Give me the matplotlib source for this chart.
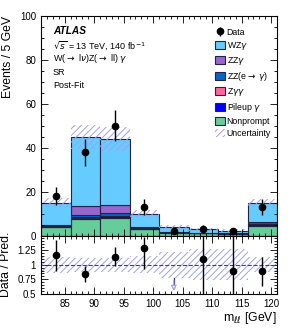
import matplotlib
matplotlib.use('Agg')
import matplotlib.pyplot as plt
import numpy as np
from matplotlib.ticker import MultipleLocator, FixedLocator, FixedFormatter

plt.rcParams['font.family'] = ['Liberation Sans', 'DejaVu Sans']
plt.rcParams['hatch.linewidth'] = 0.7

# bins in m_ll [GeV]
edges = [81, 86, 91, 96, 101, 106, 111, 116, 121]
centres = [83.5, 88.5, 93.5, 98.5, 103.5, 108.5, 113.5, 118.5]

# stacked predictions (events / bin), bottom to top
nonprompt = [3.8, 7.4, 7.8, 2.8, 1.3, 1.0, 0.7, 4.5]
pileup    = [0.3, 0.8, 1.0, 0.3, 0.2, 0.1, 0.1, 0.6]
zgg       = [0.1, 0.2, 0.2, 0.1, 0.0, 0.0, 0.0, 0.1]
zz_ey     = [0.3, 0.9, 1.1, 0.3, 0.2, 0.1, 0.1, 0.8]
zzy       = [0.3, 4.1, 3.8, 0.2, 0.1, 0.1, 0.1, 0.3]
wzy       = [10.2, 31.6, 30.1, 6.3, 2.2, 1.5, 1.2, 8.4]

rel_unc = [0.14, 0.12, 0.12, 0.15, 0.22, 0.27, 0.27, 0.13]

data = [18, 38, 50, 13, 2, 3, 2, 13]

ratio     = [1.17, 0.845, 1.14, 1.28, np.nan, 1.09, 0.90, 0.885]
ratio_lo  = [0.90, 0.71, 0.98, 0.93, np.nan, 0.40, 0.40, 0.64]
ratio_hi  = [1.43, 0.97, 1.30, 1.47, np.nan, 1.60, 1.60, 1.13]
arrow_bin = 4

samples = [
    ('Nonprompt', nonprompt, '#66cc99'),
    ('Pileup $\\gamma$', pileup, '#0000ff'),
    ('Z$\\gamma\\gamma$', zgg, '#ff6699'),
    ('ZZ(e$\\rightarrow$ $\\gamma$)', zz_ey, '#0066cc'),
    ('ZZ$\\gamma$', zzy, '#9966cc'),
    ('WZ$\\gamma$', wzy, '#66ccff'),
]
band_col = '#a0a0f0'

fig = plt.figure(figsize=(2.91, 3.28), dpi=100)
ax = fig.add_axes([0.141, 0.282, 0.811, 0.669])
rax = fig.add_axes([0.141, 0.104, 0.811, 0.178], sharex=ax)

bottom = np.zeros(len(centres))
handles = {}
for name, vals, col in samples:
    vals = np.array(vals)
    h = ax.bar(edges[:-1], vals, width=np.diff(edges), bottom=bottom, align='edge',
               color=col, edgecolor='#222244', linewidth=0.8, label=name)
    handles[name] = h
    bottom = bottom + vals
total = bottom

up = total * (1 + np.array(rel_unc))
dn = total * (1 - np.array(rel_unc))
unc = ax.fill_between(edges, np.append(dn, dn[-1]), np.append(up, up[-1]), step='post',
                      facecolor='none', edgecolor=band_col, hatch='/////', linewidth=0,
                      label='Uncertainty')

derr = np.sqrt(np.array(data, dtype=float))
dat = ax.errorbar(centres, data, yerr=derr, fmt='o', color='black', ms=4.5,
                  elinewidth=1.0, capsize=0, label='Data')

ax.set_xlim(81, 121)
ax.set_ylim(0, 100)
ax.yaxis.set_major_locator(MultipleLocator(20))
ax.yaxis.set_minor_locator(MultipleLocator(5))
ax.xaxis.set_major_locator(MultipleLocator(5))
ax.xaxis.set_minor_locator(MultipleLocator(1))
for a in (ax, rax):
    a.tick_params(which='both', direction='in', top=True, right=True, labelsize=7)
    a.tick_params(which='major', length=5, width=0.6)
    a.tick_params(which='minor', length=2.5, width=0.6)
    for s in a.spines.values():
        s.set_linewidth(0.8)
ax.tick_params(labelbottom=False)
ax.set_ylabel('Events / 5 GeV', fontsize=8.8, loc='top')

order = ['WZ$\\gamma$', 'ZZ$\\gamma$', 'ZZ(e$\\rightarrow$ $\\gamma$)', 'Z$\\gamma\\gamma$',
         'Pileup $\\gamma$', 'Nonprompt']
leg = ax.legend([dat] + [handles[n] for n in order] + [unc],
                ['Data'] + order + ['Uncertainty'],
                loc='upper right', bbox_to_anchor=(1.0, 0.975), frameon=False,
                fontsize=6.3, handlelength=1.1, handleheight=1.0, handletextpad=0.2,
                labelspacing=0.35, borderaxespad=0.3)

tx = 0.05
ax.text(tx, 0.93, 'ATLAS', transform=ax.transAxes, fontsize=7.3, fontweight='bold',
        style='italic', va='center')
ax.text(tx, 0.865, '$\\sqrt{s}$ = 13 TeV, 140 fb$^{-1}$', transform=ax.transAxes,
        fontsize=6.5, va='center')
ax.text(tx, 0.805, 'W($\\rightarrow$ l$\\nu$)Z($\\rightarrow$ ll) $\\gamma$',
        transform=ax.transAxes, fontsize=6.5, va='center')
ax.text(tx, 0.745, 'SR', transform=ax.transAxes, fontsize=6.5, va='center')
ax.text(tx, 0.683, 'Post-Fit', transform=ax.transAxes, fontsize=6.5, va='center')

# ratio panel
rel = np.array(rel_unc)
rax.fill_between(edges, np.append(1 - rel, 1 - rel[-1]), np.append(1 + rel, 1 + rel[-1]),
                 step='post', facecolor='none', edgecolor=band_col, hatch='/////',
                 linewidth=0)
rax.axhline(1.0, color='#444466', ls='--', lw=0.8)
r = np.array(ratio)
lo = r - np.array(ratio_lo)
hi = np.array(ratio_hi) - r
rax.errorbar(centres, r, yerr=[lo, hi], fmt='o', color='black', ms=4.5,
             elinewidth=1.0, capsize=0)
rax.annotate('', xy=(centres[arrow_bin], 0.5), xytext=(centres[arrow_bin], 0.78),
             arrowprops=dict(arrowstyle='-|>', color=band_col, lw=0.9,
                             mutation_scale=8, fc='white'))
rax.plot([centres[arrow_bin]] * 2, [0.6, 0.78], color='#333355', lw=0.9)
rax.set_ylim(0.5, 1.5)
rax.yaxis.set_major_locator(FixedLocator([0.5, 0.75, 1.0, 1.25]))
rax.yaxis.set_major_formatter(FixedFormatter(['0.5', '0.75', '1', '1.25']))
rax.yaxis.set_minor_locator(MultipleLocator(0.05))
rax.set_ylabel('Data / Pred.', fontsize=8.8)
rax.set_xlabel('m$_{\\ell\\ell}$ [GeV]', fontsize=8.8, loc='right', labelpad=1)

fig.savefig('out.png', dpi=100)
